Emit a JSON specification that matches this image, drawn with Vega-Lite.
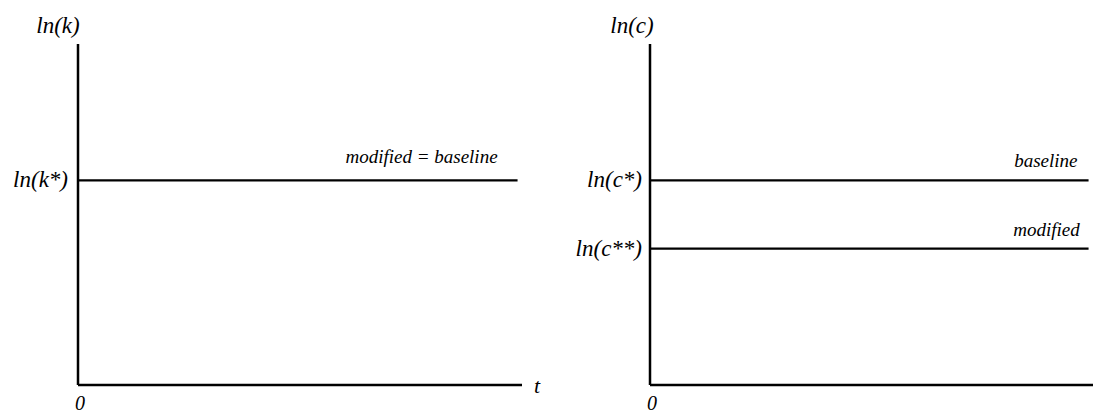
{
  "$schema": "https://vega.github.io/schema/vega-lite/v6.json",
  "padding": {"left": 13, "top": 15, "right": 0, "bottom": 0},
  "bounds": "flush",
  "spacing": 128,
  "config": {
    "view": {"stroke": null},
    "text": {"font": "Liberation Serif", "fontStyle": "italic", "color": "black"},
    "rule": {"color": "black"}
  },
  "hconcat": [
    {
      "width": 444,
      "height": 341,
      "layer": [
        {
          "data": {"values": [
            {"part": "time axis", "x": 0, "y": 0, "x2": 10, "y2": 0},
            {"part": "ln(k) axis", "x": 0, "y": 0, "x2": 0, "y2": 10}
          ]},
          "mark": {"type": "rule", "strokeWidth": 2.5},
          "encoding": {
            "x": {"field": "x", "type": "quantitative", "scale": {"domain": [0, 10], "nice": false}, "axis": null},
            "y": {"field": "y", "type": "quantitative", "scale": {"domain": [0, 10], "nice": false}, "axis": null},
            "x2": {"field": "x2"},
            "y2": {"field": "y2"}
          }
        },
        {
          "data": {"values": [
            {"series": "modified = baseline", "t0": 0, "t1": 9.9, "level": 6}
          ]},
          "mark": {"type": "rule", "strokeWidth": 2.2},
          "encoding": {
            "x": {"field": "t0", "type": "quantitative", "scale": {"domain": [0, 10], "nice": false}, "axis": null},
            "x2": {"field": "t1"},
            "y": {"field": "level", "type": "quantitative", "scale": {"domain": [0, 10], "nice": false}, "axis": null}
          }
        },
        {
          "data": {"values": [{"label": "modified = baseline", "t": 9.45, "level": 6.5}]},
          "mark": {"type": "text", "align": "right", "baseline": "alphabetic", "fontSize": 19},
          "encoding": {
            "x": {"field": "t", "type": "quantitative"},
            "y": {"field": "level", "type": "quantitative"},
            "text": {"field": "label"}
          }
        },
        {
          "data": {"values": [{"label": "ln(k*)", "level": 6}]},
          "mark": {"type": "text", "align": "right", "baseline": "middle", "fontSize": 23, "dx": -10},
          "encoding": {
            "x": {"datum": 0, "type": "quantitative"},
            "y": {"field": "level", "type": "quantitative"},
            "text": {"field": "label"}
          }
        },
        {
          "data": {"values": [{"label": "ln(k)"}]},
          "mark": {"type": "text", "align": "center", "baseline": "middle", "fontSize": 23, "dx": -20, "dy": -18},
          "encoding": {
            "x": {"datum": 0, "type": "quantitative"},
            "y": {"datum": 10, "type": "quantitative"},
            "text": {"field": "label"}
          }
        },
        {
          "data": {"values": [{"label": "0"}]},
          "mark": {"type": "text", "align": "center", "baseline": "middle", "fontSize": 20, "dx": 2, "dy": 19},
          "encoding": {
            "x": {"datum": 0, "type": "quantitative"},
            "y": {"datum": 0, "type": "quantitative"},
            "text": {"field": "label"}
          }
        },
        {
          "data": {"values": [{"label": "t"}]},
          "mark": {"type": "text", "align": "left", "baseline": "middle", "fontSize": 22, "dx": 12, "dy": 1},
          "encoding": {
            "x": {"datum": 10, "type": "quantitative"},
            "y": {"datum": 0, "type": "quantitative"},
            "text": {"field": "label"}
          }
        }
      ]
    },
    {
      "width": 443,
      "height": 341,
      "layer": [
        {
          "data": {"values": [
            {"part": "time axis", "x": 0, "y": 0, "x2": 10, "y2": 0},
            {"part": "ln(c) axis", "x": 0, "y": 0, "x2": 0, "y2": 10}
          ]},
          "mark": {"type": "rule", "strokeWidth": 2.5},
          "encoding": {
            "x": {"field": "x", "type": "quantitative", "scale": {"domain": [0, 10], "nice": false}, "axis": null},
            "y": {"field": "y", "type": "quantitative", "scale": {"domain": [0, 10], "nice": false}, "axis": null},
            "x2": {"field": "x2"},
            "y2": {"field": "y2"}
          }
        },
        {
          "data": {"values": [
            {"series": "baseline", "t0": 0, "t1": 9.9, "level": 6},
            {"series": "modified", "t0": 0, "t1": 9.9, "level": 4}
          ]},
          "mark": {"type": "rule", "strokeWidth": 2.2},
          "encoding": {
            "x": {"field": "t0", "type": "quantitative", "scale": {"domain": [0, 10], "nice": false}, "axis": null},
            "x2": {"field": "t1"},
            "y": {"field": "level", "type": "quantitative", "scale": {"domain": [0, 10], "nice": false}, "axis": null}
          }
        },
        {
          "data": {"values": [
            {"label": "baseline", "t": 9.65, "level": 6.38},
            {"label": "modified", "t": 9.7, "level": 4.38}
          ]},
          "mark": {"type": "text", "align": "right", "baseline": "alphabetic", "fontSize": 19},
          "encoding": {
            "x": {"field": "t", "type": "quantitative"},
            "y": {"field": "level", "type": "quantitative"},
            "text": {"field": "label"}
          }
        },
        {
          "data": {"values": [
            {"label": "ln(c*)", "level": 6},
            {"label": "ln(c**)", "level": 4}
          ]},
          "mark": {"type": "text", "align": "right", "baseline": "middle", "fontSize": 23, "dx": -8},
          "encoding": {
            "x": {"datum": 0, "type": "quantitative"},
            "y": {"field": "level", "type": "quantitative"},
            "text": {"field": "label"}
          }
        },
        {
          "data": {"values": [{"label": "ln(c)"}]},
          "mark": {"type": "text", "align": "center", "baseline": "middle", "fontSize": 23, "dx": -18, "dy": -18},
          "encoding": {
            "x": {"datum": 0, "type": "quantitative"},
            "y": {"datum": 10, "type": "quantitative"},
            "text": {"field": "label"}
          }
        },
        {
          "data": {"values": [{"label": "0"}]},
          "mark": {"type": "text", "align": "center", "baseline": "middle", "fontSize": 20, "dx": 2, "dy": 19},
          "encoding": {
            "x": {"datum": 0, "type": "quantitative"},
            "y": {"datum": 0, "type": "quantitative"},
            "text": {"field": "label"}
          }
        }
      ]
    }
  ]
}
